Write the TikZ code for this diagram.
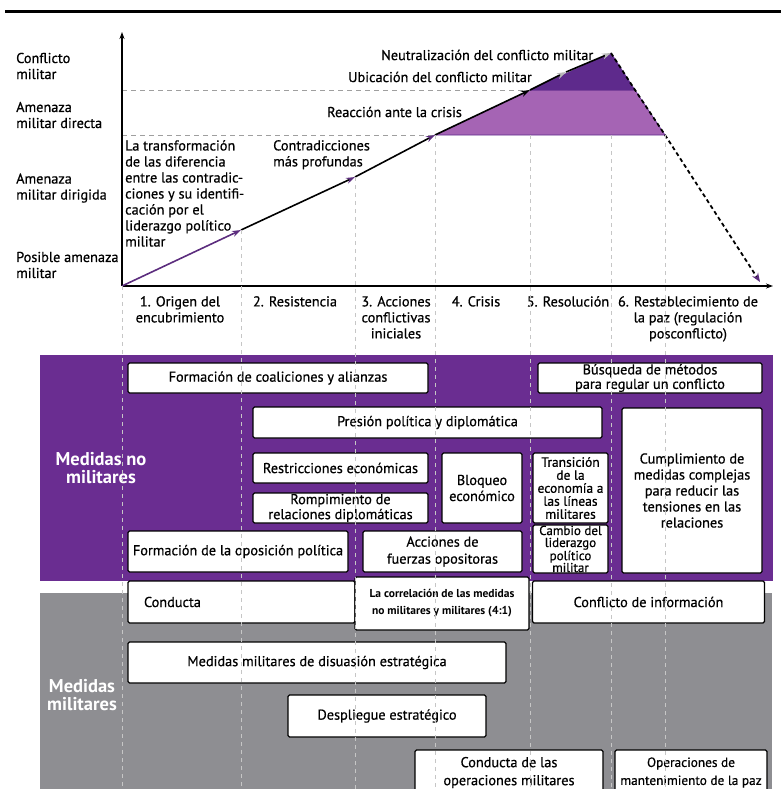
\documentclass[tikz,border=0pt]{standalone}
\usepackage{fontspec}
\setmainfont{PT Sans}[UprightFeatures={FakeBold=0.6}]
\usetikzlibrary{arrows.meta}
\definecolor{panelpurple}{HTML}{6A2D91}
\definecolor{panelgray}{HTML}{8E8E92}
\definecolor{lightzone}{HTML}{A564B4}
\definecolor{darkzone}{HTML}{5E2A8C}
\definecolor{pathpurple}{HTML}{5C2D7E}

\begin{document}
\begin{tikzpicture}
	[x=1pt,y=-1pt,
	every node/.style={inner sep=0pt, align=center, font=\fontsize{14.3}{16}\selectfont},
	box/.style={draw, fill=white, line width=1.2pt, rounded corners=1.5pt},
	lab/.style={anchor=west, align=left},
	guide/.style={draw=gray!45, line width=0.8pt, dash pattern=on 4pt off 4pt},
	stage/.style={draw=gray!75, line width=0.8pt, dash pattern=on 5pt off 4pt},
	track/.style={line width=1.6pt},
	panelname/.style={text=white, font=\bfseries\fontsize{18.5}{18}\selectfont}]
	\useasboundingbox (0,0) rectangle (781,789);
	\clip (0,0) rectangle (781,789);
	%\draw[help lines] (0,0) grid (781,789);
	\coordinate (r1) at (5,12);
	\coordinate (r2) at (781,12);
	\draw[line width=3pt] (r1) -- (r2);
	
	\fill[panelpurple] (40,355) rectangle (773,581);
	\fill[panelgray] (40,593) rectangle (772,789);
	
	\coordinate (o) at (122,286);
	\coordinate (p1) at (241,230);
	\coordinate (p2) at (355,177);
	\coordinate (p3) at (435,135);
	\coordinate (p4) at (530,90);
	\coordinate (p5) at (566,72);
	\coordinate (p6) at (611,53);
	\coordinate (q1) at (635,90);
	\coordinate (q2) at (665,135);
	\coordinate (q3) at (760,282);
	\coordinate (c4) at (530,135);
	\coordinate (c6) at (611,135);
	\coordinate (xend) at (773,286);
	\coordinate (yend) at (122,32);
	\coordinate (bot) at (0,789);
	
	\filldraw[fill=lightzone, draw=darkzone, line width=0.6pt] (p3) -- (p4) -- (q1) -- (q2) -- cycle;
	\filldraw[fill=darkzone, draw=darkzone, line width=0.6pt] (p4) -- (p6) -- (q1) -- cycle;
	\draw[stage] (o |- p4) -- (p4);
	\draw[stage] (o |- p3) -- (p3);
	
	\draw[line width=1.3pt, -{Stealth[length=7pt,width=5pt]}] (o) -- (xend);
	\draw[line width=1.3pt, -{Stealth[length=7pt,width=5pt]}] (o) -- (yend);
	\foreach \from/\to/\col/\tip in {o/p1/pathpurple/pathpurple,p1/p2/black/pathpurple,p2/p3/black/pathpurple,p3/p4/black/black,p4/p5/black/gray!55,p5/p6/black/gray!55}
	\draw[track, draw=\col, -{Stealth[length=9pt,width=6pt,color=\tip]}] (\from) -- (\to);
	\draw[track, line width=1.8pt, dash pattern=on 4pt off 3pt, -{Stealth[length=9pt,width=7pt,color=pathpurple]}] (p6) -- (q1) -- (q2) -- (q3);
	
	% niveles
	\node[lab] (a1) at (16,66) {Conflicto\\militar};
	\node[lab] (a2) at (16,115) {Amenaza\\militar directa};
	\node[lab] (a3) at (16,188) {Amenaza\\militar dirigida};
	\node[lab] (a4) at (16,265) {Posible amenaza\\militar};
	
	\node[lab, anchor=north west] (t1) at (125,140) {La transformación\\de las diferencia\\entre las contradic-\\ciones y su identifi-\\cación por el\\liderazgo político\\militar};
	\node[lab, anchor=north west] (t2) at (273,140) {Contradicciones\\más profundas};
	\node[lab] (t3) at (327,112) {Reacción ante la crisis};
	\node[lab] (t4) at (348,77) {Ubicación del conflicto militar};
	\node[lab] (t5) at (381,55) {Neutralización del conflicto militar};
	
	% etapas
	\node[anchor=north] (s1) at (180,296) {1. Origen del\\encubrimiento};
	\node[anchor=north] (s2) at (295,296) {2. Resistencia};
	\node[anchor=north] (s3) at (396,296) {3. Acciones\\conflictivas\\iniciales};
	\node[anchor=north] (s4) at (476,296) {4. Crisis};
	\node[anchor=north] (s5) at (568,296) {5. Resolución};
	\node[anchor=north] (s6) at (688,296) {6. Restablecimiento de\\la paz (regulación\\posconflicto)};
	
	\node[panelname] (m1) at (101,468) {Medidas no\\militares};
	\node[panelname] (m2) at (82,695) {Medidas\\militares};
	
	% medidas no militares
	\node[box, minimum width=300pt, minimum height=30pt] (b1) at (278,378) {Formación de coaliciones y alianzas};
	\node[box, minimum width=224pt, minimum height=30pt, font=\fontsize{14.3}{14.5}\selectfont] (b2) at (650,378) {Búsqueda de métodos\\para regular un conflicto};
	\node[box, minimum width=349pt, minimum height=31pt] (b3) at (427.5,422.5) {Presión política y diplomática};
	\node[box, minimum width=175pt, minimum height=30pt] (b4) at (340.5,468) {Restricciones económicas};
	\node[box, minimum width=175pt, minimum height=30pt, font=\fontsize{14.3}{15}\selectfont] (b5) at (340.5,508) {Rompimiento de\\relaciones diplomáticas};
	\node[box, minimum width=80pt, minimum height=70pt] (b6) at (482,488) {Bloqueo\\económico};
	\node[box, minimum width=75pt, minimum height=70pt, font=\fontsize{13.5}{13}\selectfont] (b7) at (570.5,488) {Transición\\de la\\economía a\\las líneas\\militares};
	\node[box, minimum width=75pt, minimum height=48pt, font=\fontsize{13}{12}\selectfont] (b8) at (570.5,549) {Cambio del\\liderazgo\\político\\militar};
	\node[box, minimum width=140pt, minimum height=165pt] (b9) at (692,490.5) {Cumplimiento de\\medidas complejas\\para reducir las\\tensiones en las\\relaciones};
	\node[box, minimum width=220pt, minimum height=41pt] (b10) at (238,551.5) {Formación de la oposición política};
	\node[box, minimum width=159pt, minimum height=41pt, font=\fontsize{14.3}{17}\selectfont] (b11) at (442.5,551.5) {Acciones de\\fuerzas opositoras};
	
	% medidas militares
	\node[box, minimum width=227pt, minimum height=42pt, text width=195pt, align=left] (b12) at (241.5,602) {Conducta};
	\node[box, minimum width=232pt, minimum height=42pt] (b14) at (648.5,602) {Conflicto de información};
	\node[box, minimum width=174pt, minimum height=53pt, font=\bfseries\fontsize{11.5}{17}\selectfont] (b13) at (442,603.5) {La correlación de las medidas\\no militares y militares (4:1)};
	\node[box, minimum width=378pt, minimum height=41pt] (b15) at (317,662.5) {Medidas militares de disuasión estratégica};
	\node[box, minimum width=198pt, minimum height=42pt] (b16) at (387,716) {Despliegue estratégico};
	\node[box, minimum width=188pt, minimum height=45pt, font=\fontsize{14.3}{18}\selectfont] (b17) at (509,772.5) {Conducta de las\\operaciones militares};
	\node[box, minimum width=152pt, minimum height=45pt, font=\fontsize{13.3}{18}\selectfont] (b18) at (691,772.5) {Operaciones de\\mantenimiento de la paz};
	
	\foreach \p in {o,p1,p2,p3,c4,c6,q2}
	\draw[guide] (\p) -- (\p |- bot);
\end{tikzpicture}
\end{document}
